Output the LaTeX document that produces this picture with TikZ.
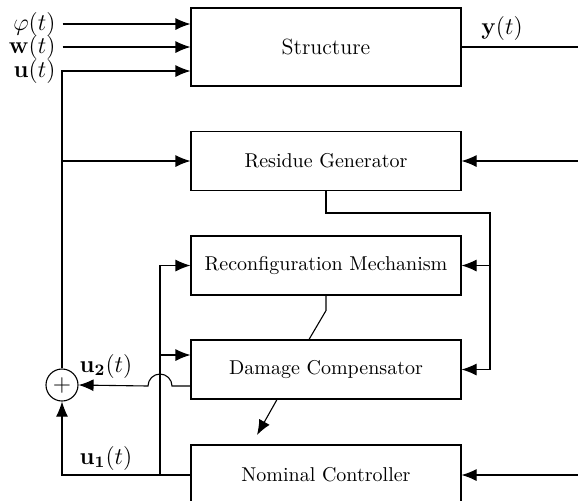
\documentclass[tikz,border=0pt]{standalone}
\usepackage{amsmath}
\usepackage{amssymb}
\usetikzlibrary{arrows.meta, positioning, calc}
\tikzset{
  block/.style={draw,rectangle,minimum width=135pt,minimum height=29.5pt,inner sep=0pt},
  sumnode/.style={draw,circle,minimum size=16pt,inner sep=0pt},
  sig/.style={-{Latex[length=7.5pt,width=6pt]}},
  siglabel/.style={font=\large,inner sep=1pt}
}
\begin{document}
\begin{tikzpicture}[x=0.5pt,y=-0.5pt,line width=0.55pt]
\useasboundingbox (0,0) rectangle (578,500);
\clip (0,0) rectangle (578,500);
% blocks
\node[block,minimum height=39pt] (struct) at (326,47) {\fontsize{11}{13}\selectfont Structure};
\node[block] (resgen) at (326,161) {Residue Generator};
\node[block] (reconf) at (326,265.5) {Reconfiguration Mechanism};
\node[block] (damage) at (326,369.5) {Damage Compensator};
\node[block,minimum height=30pt] (nominal) at (326,475) {Nominal Controller};
\node[sumnode] (sum) at (62,385) {\large$+$};
% signal labels
\node[siglabel,anchor=east] (phi) at (58,24) {$\varphi(t)$};
\node[siglabel,anchor=east] (wdist) at (58,47) {$\mathbf{w}(t)$};
\node[siglabel,anchor=east] (uin) at (58,71) {$\mathbf{u}(t)$};
\node[siglabel] (yout) at (502,28) {$\mathbf{y}(t)$};
\node[siglabel] (utwo) at (106,366) {$\mathbf{u_2}(t)$};
\node[siglabel] (uone) at (106,458) {$\mathbf{u_1}(t)$};
% helper points
\coordinate (ubus) at (62,71);
\coordinate (yend) at (578,47);
\coordinate (rgin) at (578,161);
\coordinate (ncin) at (578,475);
\coordinate (rgbus) at (490,213);
\coordinate (ctap) at (160,475);
\coordinate (dcin) at ([yshift=7.25pt]damage.west);
\coordinate (dcout) at ([yshift=-8.25pt]damage.west);
\coordinate (jump) at (ctap |- dcout);
\coordinate (dcend) at (257,435);
% structure
\draw[sig] ([xshift=2.3pt]phi.east) -- (phi.east -| struct.west);
\draw[sig] ([xshift=2.3pt]wdist.east) -- (wdist.east -| struct.west);
\draw[sig] (sum.north) -- (ubus) -- (ubus -| struct.west);
\draw (struct.east) -- (yend);
% residue generator
\draw[sig] (ubus |- resgen.west) -- (resgen.west);
\draw[sig] (rgin) -- (resgen.east);
\draw[sig] (resgen.south) -- (resgen.south |- rgbus) -- (rgbus) |- (damage.east);
\draw[sig] (rgbus |- reconf.east) -- (reconf.east);
% reconfiguration / damage
\draw (reconf.south) -- ++(0,15) -- ([xshift=-8.5pt]damage.north);
\draw[sig] ([xshift=-24.5pt]damage.south) -- (dcend);
% controller paths
\draw[sig] (nominal.west) -- (nominal.west -| sum) -- (sum.south);
\draw[sig] (ctap) -- (ctap |- reconf.west) -- (reconf.west);
\draw[sig] (ctap |- dcin) -- (dcin);
\draw[sig] (dcout) -- ([xshift=6pt]jump) arc[start angle=0,end angle=180,radius=6pt] -- (sum.east);
\draw[sig] (ncin) -- (nominal.east);
\end{tikzpicture}
\end{document}
